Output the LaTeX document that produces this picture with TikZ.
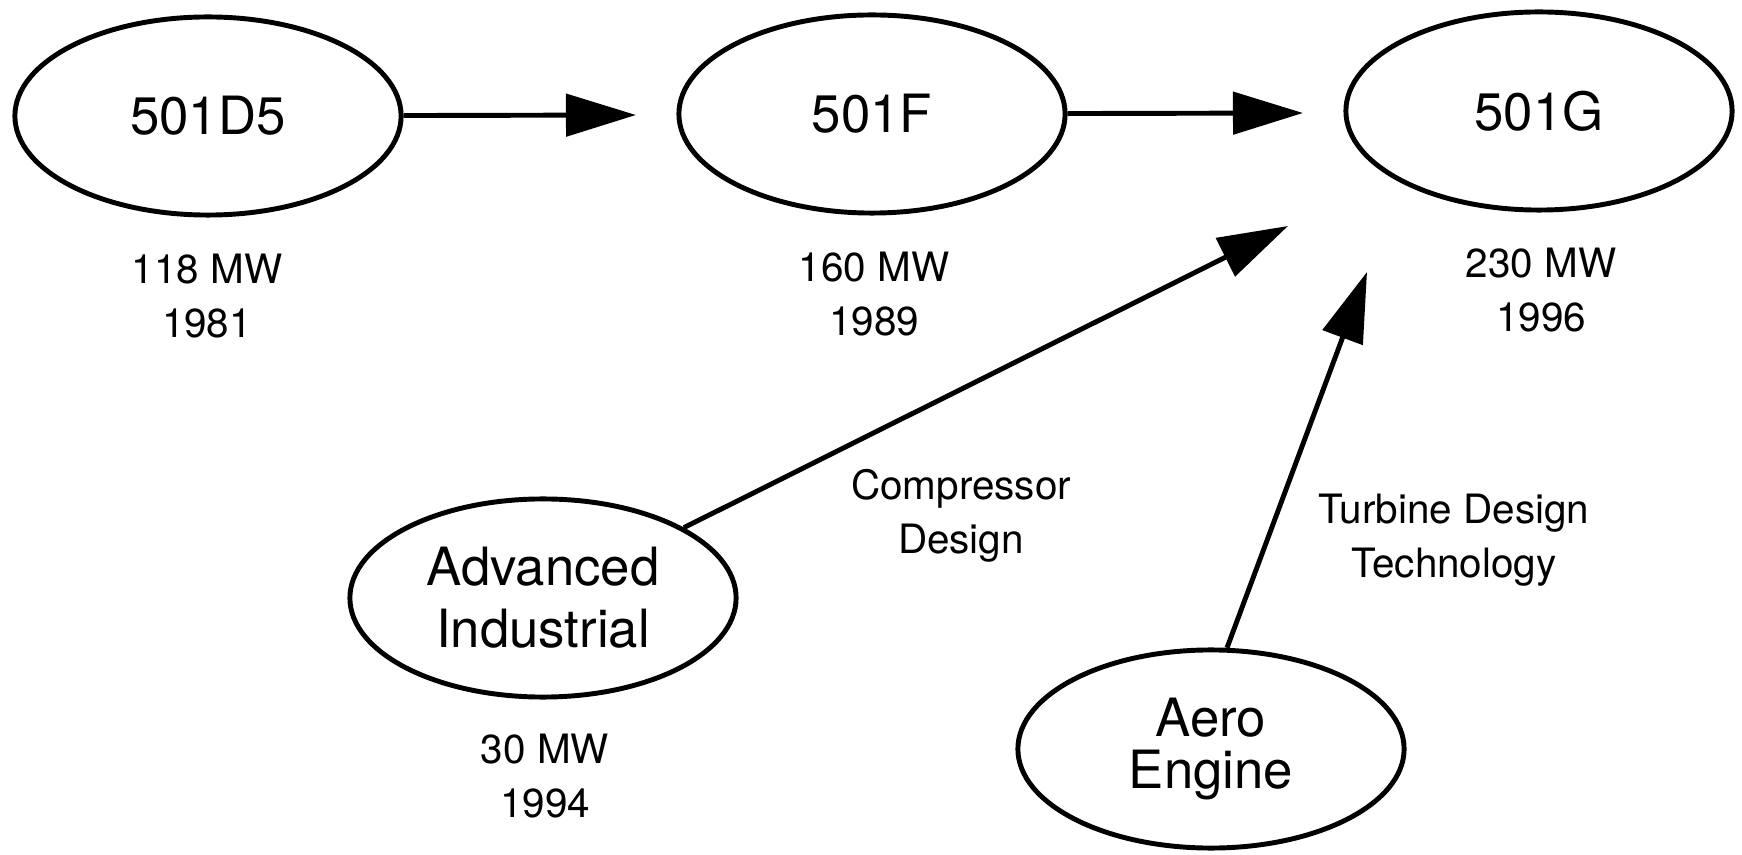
\documentclass[tikz,border=0pt]{standalone}
\usepackage{fontspec}
\setmainfont{TeX Gyre Heros}
\usetikzlibrary{shapes.geometric,arrows.meta}
\begin{document}
\begin{tikzpicture}[x=0.01cm,y=-0.01cm,
  oval/.style={draw,ellipse,line width=1.4pt,minimum width=3.86cm,minimum height=1.98cm,
    inner sep=0pt,align=center,font=\fontsize{15}{17.6}\selectfont},
  lbl/.style={inner sep=0pt,align=center,font=\fontsize{11.5}{15.2}\selectfont},
  arr/.style={line width=1.4pt,-{Triangle[length=0.7cm,width=0.42cm]}}]
\useasboundingbox (0,0) rectangle (1742,855);
\node[oval] (d5) at (208,116) {501D5};
\node[oval] (f) at (872,114) {501F};
\node[oval] (g) at (1539,111) {501G};
\node[oval] (adv) at (543,598) {Advanced\\Industrial};
\node[oval,font=\fontsize{15}{15}\selectfont] (aero) at (1211,749) {Aero\\Engine};
\node[lbl] (l1) at (207,296) {118 MW\\1981};
\node[lbl] (l2) at (874,294) {160 MW\\1989};
\node[lbl] (l3) at (1541,290) {230 MW\\1996};
\node[lbl] (l4) at (545,776) {30 MW\\1994};
\node[lbl] (l5) at (961,516) {Compressor\\Design};
\node[lbl] (l6) at (1454,540) {Turbine Design\\Technology};
\coordinate (t1) at (636,115);
\coordinate (t2) at (1303,113);
\coordinate (t3) at (1288,226);
\coordinate (t4) at (1367,272);
\draw[arr] (d5) -- (t1);
\draw[arr] (f) -- (t2);
\draw[arr] (adv) -- (t3);
\draw[arr] (aero.81) -- (t4);
\end{tikzpicture}
\end{document}
